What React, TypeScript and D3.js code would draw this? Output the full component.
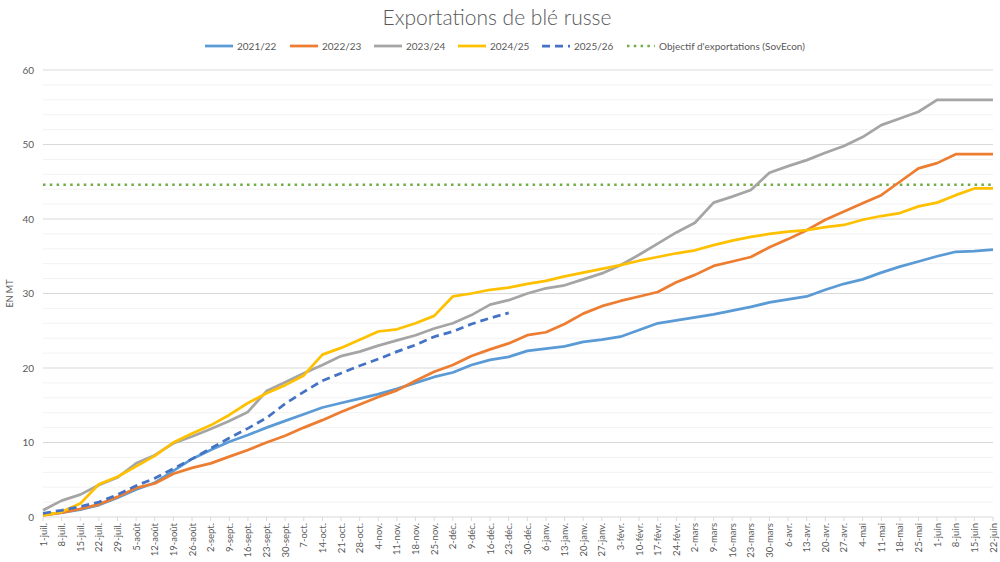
import * as d3 from "d3";

const weeks = [
  "1-juil.", "8-juil.", "15-juil.", "22-juil.", "29-juil.",
  "5-août", "12-août", "19-août", "26-août",
  "2-sept.", "9-sept.", "16-sept.", "23-sept.", "30-sept.",
  "7-oct.", "14-oct.", "21-oct.", "28-oct.",
  "4-nov.", "11-nov.", "18-nov.", "25-nov.",
  "2-déc.", "9-déc.", "16-déc.", "23-déc.", "30-déc.",
  "6-janv.", "13-janv.", "20-janv.", "27-janv.",
  "3-févr.", "10-févr.", "17-févr.", "24-févr.",
  "2-mars", "9-mars", "16-mars", "23-mars", "30-mars",
  "6-avr.", "13-avr.", "20-avr.", "27-avr.",
  "4-mai", "11-mai", "18-mai", "25-mai",
  "1-juin", "8-juin", "15-juin", "22-juin",
];

const s2122 = [0.3, 0.6, 1.0, 1.6, 2.6, 3.7, 4.6, 6.2, 7.8, 9.0, 10.1, 11.0, 12.0, 12.9, 13.8, 14.7, 15.3, 15.9, 16.5, 17.2, 18.0, 18.8, 19.4, 20.4, 21.1, 21.5, 22.3, 22.6, 22.9, 23.5, 23.8, 24.2, 25.1, 26.0, 26.4, 26.8, 27.2, 27.7, 28.2, 28.8, 29.2, 29.6, 30.5, 31.3, 31.9, 32.8, 33.6, 34.3, 35.0, 35.6, 35.7, 35.9];
const s2223 = [0.2, 0.6, 1.1, 1.7, 2.7, 3.9, 4.5, 5.8, 6.6, 7.2, 8.1, 9.0, 10.0, 10.9, 12.0, 13.0, 14.1, 15.1, 16.1, 17.0, 18.3, 19.5, 20.4, 21.6, 22.5, 23.3, 24.4, 24.8, 25.9, 27.3, 28.3, 29.0, 29.6, 30.2, 31.5, 32.5, 33.7, 34.3, 34.9, 36.2, 37.3, 38.5, 39.9, 41.0, 42.1, 43.2, 45.0, 46.8, 47.5, 48.7, 48.7, 48.7];
const s2324 = [0.9, 2.2, 3.0, 4.3, 5.3, 7.2, 8.3, 9.9, 10.8, 11.8, 12.9, 14.1, 16.9, 18.1, 19.3, 20.4, 21.6, 22.2, 23.0, 23.7, 24.4, 25.3, 26.0, 27.1, 28.5, 29.1, 30.0, 30.7, 31.1, 31.9, 32.7, 33.8, 35.2, 36.7, 38.2, 39.5, 42.2, 43.0, 43.9, 46.2, 47.1, 47.9, 48.9, 49.8, 51.0, 52.6, 53.5, 54.4, 56.0, 56.0, 56.0, 56.0];
const s2425 = [0.2, 0.7, 1.8, 4.4, 5.4, 6.8, 8.2, 10.0, 11.2, 12.3, 13.7, 15.3, 16.6, 17.7, 19.0, 21.8, 22.7, 23.8, 24.9, 25.2, 26.0, 27.0, 29.6, 30.0, 30.5, 30.8, 31.3, 31.7, 32.3, 32.8, 33.3, 33.8, 34.4, 34.9, 35.4, 35.8, 36.5, 37.1, 37.6, 38.0, 38.3, 38.5, 38.9, 39.2, 39.9, 40.4, 40.8, 41.7, 42.2, 43.2, 44.1, 44.1];
const s2526 = [0.5, 0.9, 1.4, 2.0, 3.0, 4.2, 5.2, 6.5, 7.8, 9.2, 10.6, 11.9, 13.3, 15.2, 16.8, 18.3, 19.3, 20.3, 21.2, 22.2, 23.1, 24.2, 24.9, 25.9, 26.7, 27.4];
const objectif = 44.6;

const yTicks = [0, 10, 20, 30, 40, 50, 60];
const yMinor = d3.range(2, 60, 2).filter((v) => v % 10 !== 0);

const series = [
  { name: "2021/22", values: s2122, color: "#5B9BD5", dash: "" },
  { name: "2022/23", values: s2223, color: "#ED7D31", dash: "" },
  { name: "2023/24", values: s2324, color: "#A5A5A5", dash: "" },
  { name: "2024/25", values: s2425, color: "#FFC000", dash: "" },
  { name: "2025/26", values: s2526, color: "#4472C4", dash: "8,5" },
];

const font = "Lato, 'Open Sans', sans-serif";
const txt = "#595959";

export default function App() {
  const width = 1000;
  const height = 562;

  const x = d3.scalePoint<string>().domain(weeks).range([43, 993]);
  const y = d3.scaleLinear().domain([0, 60]).range([517, 70]);

  const line = d3
    .line<number>()
    .x((_, i) => x(weeks[i]) as number)
    .y((d) => y(d));

  const legend = [
    ...series.map((s) => ({ name: s.name, color: s.color, dash: s.dash, w: 2.75 })),
    { name: "Objectif d'exportations (SovEcon)", color: "#70AD47", dash: "2.5,4.3", w: 2.5 },
  ];
  const legendX = [205, 290, 374, 458, 542, 627];

  return (
    <svg
      width={width}
      height={height}
      style={{ position: "absolute", left: 0, top: 0, background: "#fff" }}
      fontFamily={font}
    >
      <text x={497} y={25} textAnchor="middle" fontSize={21} fontWeight={300} fill={txt}>
        Exportations de blé russe
      </text>

      <g>
        {legend.map((l, i) => (
          <g key={`-:leg-${l.name}`} transform={`translate(${legendX[i]},46)`}>
            <line x1={0} x2={28} y1={0} y2={0} stroke={l.color} strokeWidth={l.w} strokeDasharray={l.dash} />
            <text x={32} y={3.5} fontSize={10} fill={txt}>{l.name}</text>
          </g>
        ))}
      </g>

      {yMinor.map((v) => (
        <line key={`-:minor-${v}`} x1={43} x2={993} y1={y(v)} y2={y(v)} stroke="#F2F2F2" strokeWidth={1} />
      ))}
      {yTicks.map((v) => (
        <g key={`-:major-${v}`}>
          <line x1={43} x2={993} y1={y(v)} y2={y(v)} stroke="#D9D9D9" strokeWidth={1} />
          <text x={34} y={y(v) + 3.5} textAnchor="end" fontSize={10} fill={txt}>{v}</text>
        </g>
      ))}

      <text transform={`translate(13,${y(30)}) rotate(-90)`} textAnchor="middle" fontSize={9} fill={txt}>
        EN MT
      </text>

      {weeks.map((w) => (
        <g key={`-:xt-${w}`} transform={`translate(${x(w)},517)`}>
          <line y1={0} y2={4} stroke="#D9D9D9" />
          <text transform="translate(3.5,6) rotate(-90)" textAnchor="end" fontSize={9.5} fill={txt}>{w}</text>
        </g>
      ))}

      <line
        x1={43}
        x2={993}
        y1={y(objectif)}
        y2={y(objectif)}
        stroke="#70AD47"
        strokeWidth={2.5}
        strokeDasharray="2.5,4.3"
      />

      {series.map((s) => (
        <path
          key={`-:line-${s.name}`}
          d={line(s.values) || ""}
          fill="none"
          stroke={s.color}
          strokeWidth={2.75}
          strokeDasharray={s.dash}
          strokeLinejoin="round"
        />
      ))}
    </svg>
  );
}
